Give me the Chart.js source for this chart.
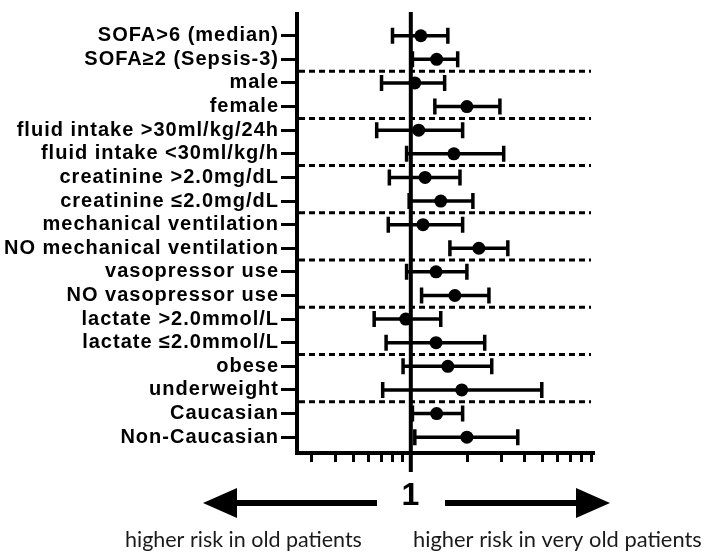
<!DOCTYPE html>
<html>
<head>
<meta charset="utf-8">
<script src="https://cdn.jsdelivr.net/npm/chart.js@4/dist/chart.umd.min.js"></script>
<style>
  html, body { margin: 0; padding: 0; background: #ffffff; }
  #wrap { width: 708px; height: 559px; position: relative; }
</style>
</head>
<body>
<div id="wrap"><canvas id="c" width="708" height="559"></canvas></div>
<script>
const categories = [
  "SOFA>6 (median)",
  "SOFA\u22652 (Sepsis-3)",
  "male",
  "female",
  "fluid intake >30ml/kg/24h",
  "fluid intake <30ml/kg/h",
  "creatinine >2.0mg/dL",
  "creatinine \u22642.0mg/dL",
  "mechanical ventilation",
  "NO mechanical ventilation",
  "vasopressor use",
  "NO vasopressor use",
  "lactate >2.0mmol/L",
  "lactate \u22642.0mmol/L",
  "obese",
  "underweight",
  "Caucasian",
  "Non-Caucasian"
];
const estimates = [1.13, 1.37, 1.05, 1.98, 1.10, 1.69, 1.19, 1.44, 1.16, 2.29, 1.36, 1.71, 0.94, 1.36, 1.57, 1.86, 1.37, 1.98];
const lowerCI   = [0.80, 1.02, 0.70, 1.34, 0.66, 0.95, 0.77, 0.98, 0.76, 1.61, 0.95, 1.14, 0.64, 0.74, 0.91, 0.71, 1.02, 1.05];
const upperCI   = [1.57, 1.77, 1.51, 2.96, 1.88, 3.10, 1.82, 2.13, 1.88, 3.26, 1.98, 2.59, 1.44, 2.46, 2.68, 4.93, 1.88, 3.68];
const xTickValues = [0.3, 0.4, 0.5, 0.6, 0.7, 0.8, 0.9, 1, 2, 3, 4, 5, 6, 7, 8, 9];
const xTickLabels = { 1: "1" };
const leftNote = "higher risk in old patients";
const rightNote = "higher risk in very old patients";

const points = estimates.map((v, i) => ({ x: v, y: i }));

const LS = '1px';
const spacingPlugin = {
  id: 'spacing',
  beforeUpdate(chart) { chart.ctx.letterSpacing = LS; },
  beforeLayout(chart) { chart.ctx.letterSpacing = LS; },
  beforeDraw(chart) { chart.ctx.letterSpacing = LS; }
};

const forestPlugin = {
  id: 'forest',
  beforeDatasetsDraw(chart) {
    const ctx = chart.ctx;
    const xs = chart.scales.x, ys = chart.scales.y;
    const area = chart.chartArea;
    ctx.save();
    ctx.strokeStyle = '#000';
    ctx.lineWidth = 3;
    ctx.setLineDash([6, 4]);
    for (let i = 1; i < categories.length - 1; i += 2) {
      const y = ys.getPixelForValue(i + 0.5);
      ctx.beginPath();
      ctx.moveTo(area.left + 2, y);
      ctx.lineTo(area.right - 2, y);
      ctx.stroke();
    }
    ctx.setLineDash([]);
    const x1 = xs.getPixelForValue(1);
    ctx.lineWidth = 4;
    ctx.beginPath();
    ctx.moveTo(x1, area.top - 2);
    ctx.lineTo(x1, area.bottom + 19);
    ctx.stroke();
    ctx.lineWidth = 3.5;
    for (let i = 0; i < categories.length; i++) {
      const y = ys.getPixelForValue(i);
      const xl = xs.getPixelForValue(lowerCI[i]);
      const xh = xs.getPixelForValue(upperCI[i]);
      ctx.beginPath();
      ctx.moveTo(xl, y); ctx.lineTo(xh, y);
      ctx.moveTo(xl, y - 8); ctx.lineTo(xl, y + 8);
      ctx.moveTo(xh, y - 8); ctx.lineTo(xh, y + 8);
      ctx.stroke();
    }
    ctx.restore();
  },
  afterDraw(chart) {
    const ctx = chart.ctx;
    ctx.save();
    ctx.letterSpacing = '0px';
    ctx.fillStyle = '#000';
    ctx.strokeStyle = '#000';
    const ay = 503;
    ctx.lineWidth = 6;
    ctx.beginPath(); ctx.moveTo(377, ay); ctx.lineTo(232, ay); ctx.stroke();
    ctx.beginPath(); ctx.moveTo(203, ay); ctx.lineTo(237, ay - 15); ctx.lineTo(237, ay + 15); ctx.closePath(); ctx.fill();
    ctx.beginPath(); ctx.moveTo(445, ay); ctx.lineTo(580, ay); ctx.stroke();
    ctx.beginPath(); ctx.moveTo(610, ay); ctx.lineTo(576, ay - 15); ctx.lineTo(576, ay + 15); ctx.closePath(); ctx.fill();
    ctx.fillStyle = '#1a1a1a';
    ctx.textBaseline = 'middle';
    ctx.textAlign = 'left';
    ctx.font = '20px Lato';
    const w1 = ctx.measureText(leftNote).width;
    ctx.font = (20 * 237 / w1).toFixed(2) + 'px Lato';
    ctx.fillText(leftNote, 125, 540);
    ctx.font = '20px Lato';
    const w2 = ctx.measureText(rightNote).width;
    ctx.font = (20 * 289 / w2).toFixed(2) + 'px Lato';
    ctx.fillText(rightNote, 413, 540);
    ctx.restore();
  }
};

new Chart(document.getElementById('c'), {
  type: 'scatter',
  data: {
    datasets: [{
      data: points,
      pointRadius: 6.5,
      pointHoverRadius: 6.5,
      pointBackgroundColor: '#000',
      pointBorderColor: '#000',
      pointBorderWidth: 0
    }]
  },
  options: {
    responsive: false,
    animation: false,
    events: [],
    layout: { padding: { top: 8, right: 115, left: 0, bottom: 0 } },
    plugins: { legend: { display: false }, tooltip: { enabled: false } },
    scales: {
      x: {
        type: 'logarithmic',
        min: 0.25,
        max: 9.2,
        afterBuildTicks(scale) { scale.ticks = xTickValues.map(v => ({ value: v })); },
        afterFit(scale) { scale.height = 106; },
        border: { display: true, color: '#000', width: 4 },
        grid: { display: true, drawOnChartArea: false, drawTicks: true, tickLength: 9, lineWidth: 3, color: '#000' },
        ticks: {
          autoSkip: false,
          maxRotation: 0,
          color: '#000',
          font: { family: "'Liberation Sans', Arial, sans-serif", size: 32, weight: 'bold' },
          padding: 15,
          callback: (v) => xTickLabels[v] || ''
        }
      },
      y: {
        type: 'linear',
        reverse: true,
        min: -0.92,
        max: 17.67,
        afterBuildTicks(scale) { scale.ticks = categories.map((c, i) => ({ value: i })); },
        afterFit(scale) { scale.width = 297; },
        border: { display: true, color: '#000', width: 4 },
        grid: { display: true, drawOnChartArea: false, drawTicks: true, tickLength: 16, lineWidth: 3, color: '#000' },
        ticks: {
          autoSkip: false,
          color: '#000',
          padding: 2,
          font: { family: "'Liberation Sans', Arial, sans-serif", size: 20, weight: 'bold' },
          callback: (v) => categories[v] !== undefined ? categories[v] : ''
        }
      }
    }
  },
  plugins: [spacingPlugin, forestPlugin]
});
</script>
</body>
</html>
